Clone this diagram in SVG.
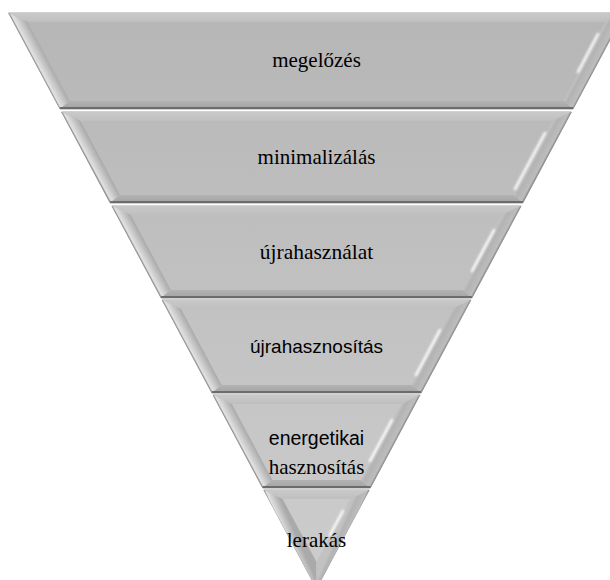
<svg xmlns="http://www.w3.org/2000/svg" width="610" height="580" viewBox="0 0 610 580">
<style>
.outer{fill:url(#face);stroke:#8a8a8a;stroke-width:0.8}
.top{fill:url(#topg)}
.left{fill:url(#lg)}
.right{fill:url(#rg)}
.bottom{fill:url(#bg)}
.base{stroke:#6c6c6c;stroke-width:2}
.streak{stroke:#ffffff;stroke-width:2.6;stroke-linecap:round;fill:none;filter:url(#soft);opacity:0.95}
.sf{font-family:Liberation Serif, Tinos, Times New Roman, Times, DejaVu Serif, serif;font-size:21px;fill:#000;text-anchor:middle}
.ss{font-family:Liberation Sans, Arimo, Arial, sans-serif;font-size:19px;fill:#000;text-anchor:middle}
</style>
<defs>
<linearGradient id="face" gradientUnits="userSpaceOnUse" x1="0" y1="13" x2="0" y2="588">
<stop offset="0" stop-color="#b6b6b6"/><stop offset="1" stop-color="#cdcdcd"/>
</linearGradient>
<linearGradient id="topg" x1="0" y1="0" x2="0" y2="1">
<stop offset="0" stop-color="#c9c9c9"/><stop offset="1" stop-color="#bfbfbf"/>
</linearGradient>
<linearGradient id="bg" x1="0" y1="0" x2="0" y2="1">
<stop offset="0" stop-color="#b2b2b2"/><stop offset="1" stop-color="#a4a4a4"/>
</linearGradient>
<linearGradient id="lg" x1="0.42" y1="0.5" x2="0.556" y2="0.386">
<stop offset="0" stop-color="#909090"/><stop offset="0.12" stop-color="#e2e2e2"/><stop offset="0.4" stop-color="#d0d0d0"/><stop offset="1" stop-color="#aaaaaa"/>
</linearGradient>
<linearGradient id="rg" x1="0.58" y1="0.5" x2="0.444" y2="0.386">
<stop offset="0" stop-color="#8c8c8c"/><stop offset="0.15" stop-color="#bdbdbd"/><stop offset="0.7" stop-color="#b3b3b3"/><stop offset="1" stop-color="#c2c2c2"/>
</linearGradient>
<filter id="soft" x="-50%" y="-50%" width="200%" height="200%"><feGaussianBlur stdDeviation="0.9"/></filter>
</defs>

<g id="layer1">
<polygon class="outer" points="8.6,13 624.4,13 573,109 60,109"/>
<polygon class="top" points="8.6,13 624.4,13 605.6,22 27.4,22"/>
<polygon class="left" points="8.6,13 27.4,22 69.7,101 60,109"/>
<polygon class="right" points="624.4,13 605.6,22 563.3,101 573,109"/>
<polygon class="bottom" points="69.7,101 563.3,101 573,109 60,109"/>
<line class="base" x1="60" y1="108" x2="573" y2="108"/>
<line class="streak" x1="598" y1="34" x2="578" y2="72"/>
<text class="sf" x="316.5" y="67">megelőzés</text>
</g>

<g id="layer2">
<polygon class="outer" points="61.6,112 571.4,112 522.8,203 110.2,203"/>
<polygon class="top" points="61.6,112 571.4,112 552.6,121 80.4,121"/>
<polygon class="left" points="61.6,112 80.4,121 120,195 110.2,203"/>
<polygon class="right" points="571.4,112 552.6,121 513,195 522.8,203"/>
<polygon class="bottom" points="120,195 513,195 522.8,203 110.2,203"/>
<line class="base" x1="110.2" y1="202" x2="522.8" y2="202"/>
<line class="streak" x1="545" y1="133" x2="515" y2="189"/>
<text class="sf" x="316.5" y="164">minimalizálás</text>
</g>

<g id="layer3">
<polygon class="outer" points="111.9,206 521.1,206 471.9,298 161.1,298"/>
<polygon class="top" points="111.9,206 521.1,206 502.3,215 130.7,215"/>
<polygon class="left" points="111.9,206 130.7,215 170.8,290 161.1,298"/>
<polygon class="right" points="521.1,206 502.3,215 462.2,290 471.9,298"/>
<polygon class="bottom" points="170.8,290 462.2,290 471.9,298 161.1,298"/>
<line class="base" x1="161.1" y1="297" x2="471.9" y2="297"/>
<line class="streak" x1="494" y1="230" x2="472" y2="271"/>
<text class="sf" x="316.5" y="259" style="font-size:21.5px">újrahasználat</text>
</g>

<g id="layer4">
<polygon class="outer" points="162.1,300 470.9,300 421.1,393 211.9,393"/>
<polygon class="top" points="162.1,300 470.9,300 452,309 181,309"/>
<polygon class="left" points="162.1,300 181,309 221.6,385 211.9,393"/>
<polygon class="right" points="470.9,300 452,309 411.4,385 421.1,393"/>
<polygon class="bottom" points="221.6,385 411.4,385 421.1,393 211.9,393"/>
<line class="base" x1="211.9" y1="392" x2="421.1" y2="392"/>
<line class="streak" x1="440" y1="330" x2="416" y2="375"/>
<text class="ss" x="316.5" y="353">újrahasznosítás</text>
</g>

<g id="layer5">
<polygon class="outer" points="213,395 420,395 370.3,488 262.7,488"/>
<polygon class="top" points="213,395 420,395 401.2,404 231.8,404"/>
<polygon class="left" points="213,395 231.8,404 272.4,480 262.7,488"/>
<polygon class="right" points="420,395 401.2,404 360.6,480 370.3,488"/>
<polygon class="bottom" points="272.4,480 360.6,480 370.3,488 262.7,488"/>
<line class="base" x1="262.7" y1="487" x2="370.3" y2="487"/>
<line class="streak" x1="392" y1="420" x2="370" y2="461"/>
<text class="ss" x="316.5" y="445" style="font-size:19.5px">energetikai</text>
<text class="sf" x="316.5" y="474">hasznosítás</text>
</g>

<g id="layer6">
<polygon class="outer" points="263.8,490 369.2,490 316.5,588.5"/>
<polygon class="top" points="263.8,490 369.2,490 350.4,499 282.6,499"/>
<polygon class="left" points="263.8,490 282.6,499 316.5,562 316.5,588.5"/>
<polygon class="right" points="369.2,490 350.4,499 316.5,562 316.5,588.5"/>
<line class="streak" x1="343" y1="511" x2="330" y2="535"/>
<text class="sf" x="316.5" y="547">lerakás</text>
</g>

<g id="connectors"></g>
</svg>
